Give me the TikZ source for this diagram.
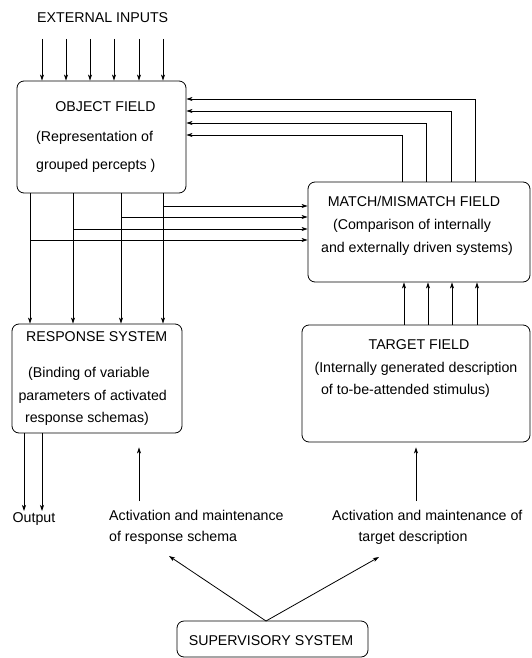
\documentclass[tikz,border=0pt]{standalone}
\usepackage{fontspec}
\setmainfont{Liberation Sans}
\usetikzlibrary{arrows.meta,calc}
\begin{document}
\begin{tikzpicture}[x=1pt,y=-1pt,
  box/.style={draw,rounded corners=7pt,line width=0.8pt,inner sep=0pt},
  txt/.style={inner sep=0pt,anchor=base,font=\fontsize{14.2}{16}\selectfont},
  txtl/.style={txt,anchor=base west},
  arr/.style={line width=0.8pt,-{Stealth[length=6pt,width=4pt,inset=1.5pt]}},
  ln/.style={line width=0.8pt}]
\useasboundingbox (0,0) rectangle (531,658);
% boxes
\node[box,minimum width=169pt,minimum height=112pt] (obj) at (101.5,137) {};
\node[box,minimum width=222pt,minimum height=100pt] (match) at (419,232) {};
\node[box,minimum width=170pt,minimum height=109pt] (resp) at (97,378.5) {};
\node[box,minimum width=228pt,minimum height=117pt] (targ) at (416,383.5) {};
\node[box,minimum width=191pt,minimum height=36pt] (sup) at (272.5,639) {};
% texts
\node[txtl] (ext) at (37,22.7) {EXTERNAL INPUTS};
\node[txt] (objA) at (105.5,111.7) {OBJECT FIELD};
\node[txtl] (objB) at (36,141) {(Representation of};
\node[txtl] (objC) at (36,169.5) {grouped percepts )};
\node[txt] (matA) at (414,206) {MATCH/MISMATCH FIELD};
\node[txt] (matB) at (412,229.3) {(Comparison of internally};
\node[txt] (matC) at (417,252.7) {and externally driven systems)};
\node[txt] (resA) at (96.7,341.7) {RESPONSE SYSTEM};
\node[txt] (resB) at (89,377.7) {(Binding of variable};
\node[txt] (resC) at (92.7,400) {parameters of activated};
\node[txt] (resD) at (87,422.7) {response schemas)};
\node[txt] (tarA) at (419,349.3) {TARGET FIELD};
\node[txt] (tarB) at (416,372.7) {(Internally generated description};
\node[txt] (tarC) at (405.5,394) {of to-be-attended stimulus)};
\node[txt] (out) at (34,522) {Output};
\node[txtl] (actL) at (109,520) {Activation and maintenance};
\node[txtl] (actL2) at (109,541.5) {of response schema};
\node[txtl] (actR) at (332,520) {Activation and maintenance of};
\node[txt] (actR2) at (413,541.5) {target description};
\node[txt] (supA) at (271,645) {SUPERVISORY SYSTEM};
% external inputs
\foreach \x in {42,66,90,114,139,163}
  \draw[arr] (\x,39) -- (obj.north -| \x,0);
% feedback from match to object
\foreach \dx/\y in {95/135,119/123,144/111,168/99}
  \draw[arr] ($(match.north west)+(\dx,0)$) |- (obj.east |- 0,\y);
% object to response
\foreach \x in {30,73,121,163}
  \draw[arr] (obj.south -| \x,0) -- (resp.north -| \x,0);
% object to match
\foreach \x/\y in {163/206,121/217,73/229,30/240}
  \draw[arr] (\x,\y) -- (match.west |- 0,\y);
% target to match
\foreach \x in {404,428,452,477}
  \draw[arr] (targ.north -| \x,0) -- (match.south -| \x,0);
% output
\foreach \x in {24,42}
  \draw[arr] (resp.south -| \x,0) -- (\x,511);
% activation arrows
\draw[arr] (139,501) -- ($(resp.south -| 139,0)+(0,14)$);
\draw[arr] (416,501) -- ($(targ.south -| 416,0)+(0,5)$);
% supervisory arrows
\coordinate (sx) at (266,621);
\draw[arr] (sx) -- (169,556);
\draw[arr] (sx) -- (379,557);
\end{tikzpicture}
\end{document}
